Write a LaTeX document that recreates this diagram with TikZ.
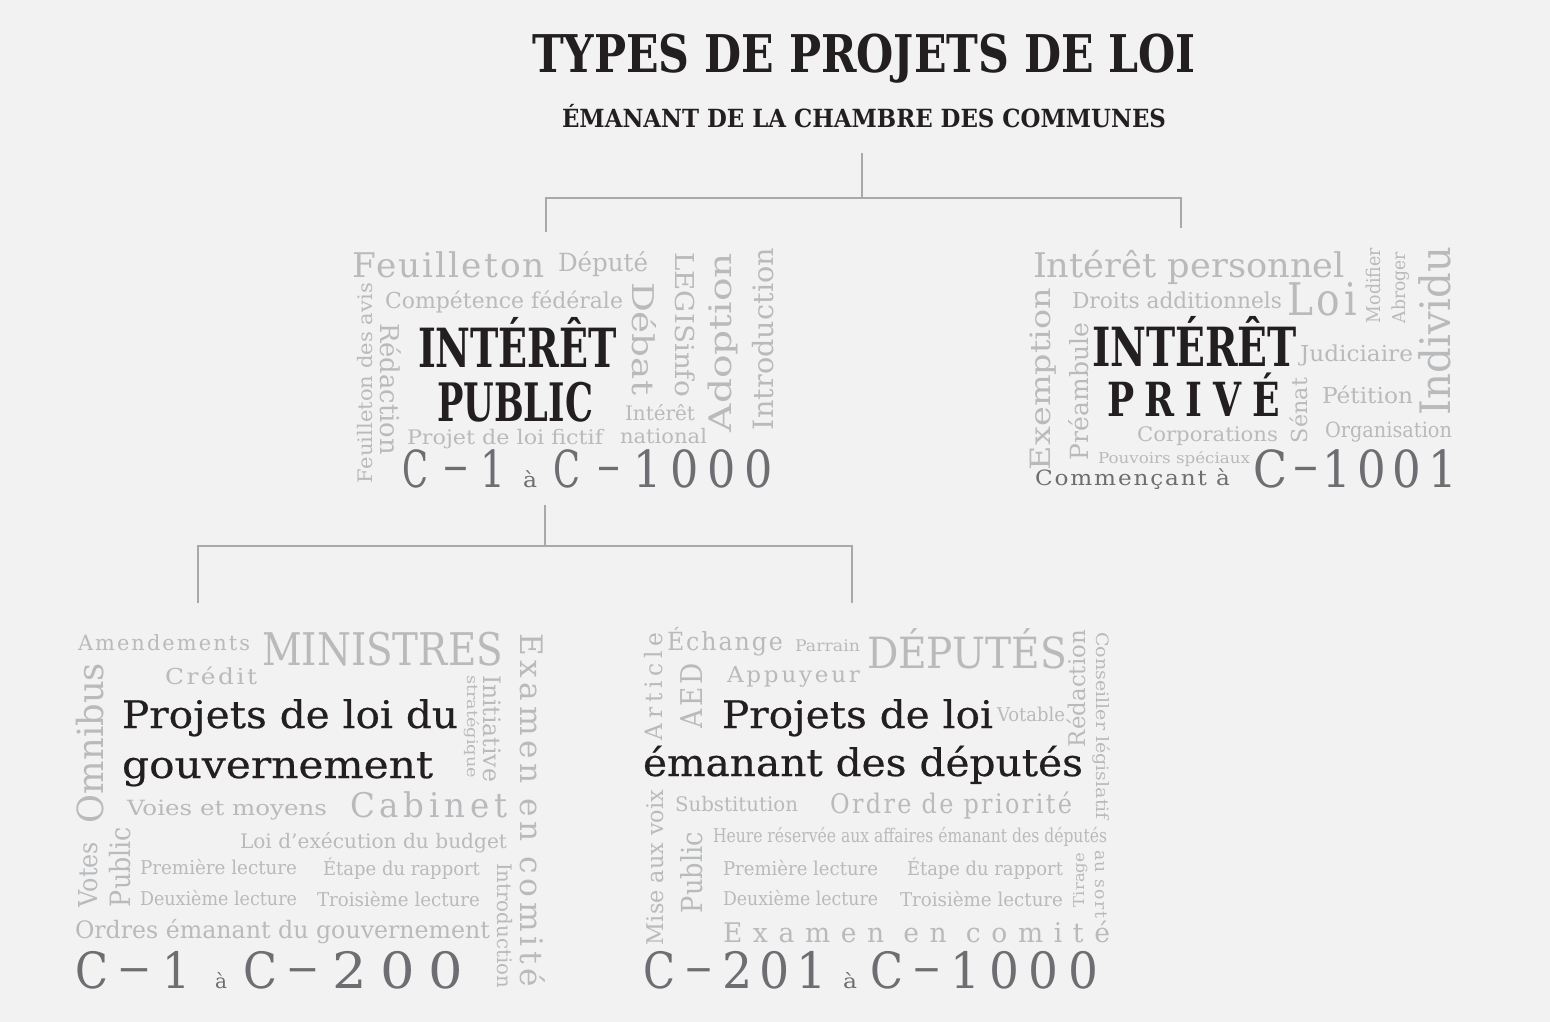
\documentclass[tikz,border=0pt]{standalone}
\usepackage{fontspec}
\setmainfont{DejaVu Serif}
\newfontfamily\medfont[FakeBold=0.5]{DejaVu Serif}
\usepackage{graphicx}
\definecolor{bg}{HTML}{F2F2F2}
\definecolor{lg}{HTML}{B9BABC}
\definecolor{dg}{HTML}{6D6E71}
\definecolor{bk}{HTML}{231F20}
\definecolor{ln}{HTML}{A7A9AC}
\newcommand\fw[3]{\resizebox{#1pt}{\height}{\fontsize{#2pt}{#2pt}\selectfont #3}}
\newcommand\fws[4]{\resizebox{#1pt}{\height}{\fontsize{#2pt}{#2pt}\selectfont\addfontfeature{LetterSpace=#3}#4}}
\newcommand\dsh[2]{\resizebox{#1pt}{\height}{\fontsize{#2pt}{#2pt}\selectfont\raisebox{5pt}{–}}}
\tikzset{
  wd/.style={inner sep=0pt, outer sep=0pt, anchor=base west, text=lg},
  up/.style={wd, rotate=90},
  dn/.style={wd, rotate=-90},
  dk/.style={wd, text=dg},
  bl/.style={wd, text=bk},
  conn/.style={draw=ln, line width=2pt},
}
\begin{document}
\begin{tikzpicture}[x=1pt,y=-1pt]
\fill[bg] (0,0) rectangle (1550,1022);
\useasboundingbox (0,0) rectangle (1550,1022);

% title
\node[bl] (title) at (532,73) {\fw{664}{52}{\bfseries TYPES DE PROJETS DE LOI}};
\node[bl] (sub) at (562,128) {\fw{604}{25}{\bfseries ÉMANANT DE LA CHAMBRE DES COMMUNES}};

% connectors
\coordinate (c0) at (862,153);
\coordinate (c1) at (862,198);
\coordinate (c2) at (546,198);
\coordinate (c3) at (1181,198);
\coordinate (c4) at (546,232);
\coordinate (c5) at (1181,228);
\coordinate (c6) at (545,505);
\coordinate (c7) at (545,546);
\coordinate (c8) at (198,546);
\coordinate (c9) at (852,546);
\coordinate (c10) at (198,603);
\coordinate (c11) at (852,603);
\draw[conn] (c0) -- (c1);
\draw[conn] (c4) -- (c2) -- (c3) -- (c5);
\draw[conn] (c6) -- (c7);
\draw[conn] (c10) -- (c8) -- (c9) -- (c11);

% ---- Intérêt public
\node[wd] (f1) at (352,277) {\fws{193}{34}{6}{Feuilleton}};
\node[wd] (f2) at (558,271) {\fw{90}{25}{Député}};
\node[wd] (f3) at (385,308) {\fw{238}{22}{Compétence fédérale}};
\node[up] (f4) at (372,483) {\fw{200}{20}{Feuilleton des avis}};
\node[dn] (f5) at (380,323) {\fw{132}{26}{Rédaction}};
\node[bl] (f6) at (418,367) {\fw{199}{54}{\bfseries INTÉRÊT}};
\node[bl] (f7) at (437,421) {\fw{156}{53}{\bfseries PUBLIC}};
\node[dn] (f8) at (632,282) {\fw{113}{30}{Débat}};
\node[dn] (f9) at (675,252) {\fw{145}{26}{LEGISinfo}};
\node[up] (f10) at (731,432) {\fw{179}{31}{Adoption}};
\node[up] (f11) at (773,430) {\fw{182}{28}{Introduction}};
\node[wd] (f12) at (625,420) {\fw{70}{20}{Intérêt}};
\node[wd] (f13) at (620,443) {\fw{87}{20}{national}};
\node[wd] (f14) at (407,444) {\fw{196}{20}{Projet de loi fictif}};
\node[dk] (fr1) at (402,487) {\fw{26}{51}{C}};
\node[dk] (fr2) at (443,487) {\dsh{25}{51}};
\node[dk] (fr3) at (480,487) {\fw{25}{51}{1}};
\node[dk] (fr4) at (523,487) {\fw{14}{21}{à}};
\node[dk] (fr5) at (553,487) {\fw{27}{51}{C}};
\node[dk] (fr6) at (597,487) {\dsh{23}{51}};
\node[dk] (fr7) at (633,487) {\fws{140}{51}{20}{1000}};

% ---- Intérêt privé
\node[wd] (p1) at (1033,277) {\fw{312}{34}{Intérêt personnel}};
\node[wd] (p2) at (1072,308) {\fw{210}{22}{Droits additionnels}};
\node[wd] (p3) at (1287,315) {\fws{70}{45}{10}{Loi}};
\node[up] (p4) at (1380,323) {\fw{75}{19}{Modifier}};
\node[up] (p5) at (1405,323) {\fw{71}{18}{Abroger}};
\node[up] (p6) at (1450,415) {\fw{168}{42}{Individu}};
\node[up] (p7) at (1050,470) {\fw{182}{28}{Exemption}};
\node[up] (p8) at (1088,460) {\fw{137}{25}{Préambule}};
\node[bl] (p9) at (1092,366) {\fw{205}{54}{\bfseries INTÉRÊT}};
\node[bl] (p10) at (1107,416) {\fws{173}{47}{30}{\bfseries PRIVÉ}};
\node[wd] (p11) at (1300,361) {\fw{113}{22}{Judiciaire}};
\node[wd] (p12) at (1322,403) {\fw{91}{22}{Pétition}};
\node[up] (p13) at (1307,443) {\fw{65}{22}{Sénat}};
\node[wd] (p14) at (1137,441) {\fw{141}{20}{Corporations}};
\node[wd] (p15) at (1325,437) {\fw{127}{21}{Organisation}};
\node[wd] (p16) at (1098,463) {\fw{152}{15}{Pouvoirs spéciaux}};
\node[dk] (p17) at (1035,485) {\fws{195}{21}{8}{Commençant à}};
\node[dk] (pr1) at (1253,487) {\fw{34}{51}{C}};
\node[dk] (pr2) at (1293,487) {\dsh{25}{51}};
\node[dk] (pr3) at (1322,487) {\fws{135}{51}{15}{1001}};

% ---- Gouvernement
\node[wd] (g1) at (78,650) {\fws{172}{21}{10}{Amendements}};
\node[wd] (g2) at (262,665) {\fw{241}{45}{MINISTRES}};
\node[wd] (g3) at (165,684) {\fws{92}{22}{10}{Crédit}};
\node[up] (g4) at (103,823) {\fw{160}{36}{Omnibus}};
\node[bl] (g5) at (122,728) {\fw{336}{38}{\medfont Projets de loi du}};
\node[bl] (g6) at (122,778) {\fw{311}{38}{\medfont gouvernement}};
\node[dn] (g7) at (467,675) {\fw{103}{15}{stratégique}};
\node[dn] (g8) at (483,675) {\fw{107}{24}{Initiative}};
\node[dn] (g9) at (520,633) {\fws{354}{31}{15}{Examen en comité}};
\node[wd] (g10) at (127,815) {\fw{200}{21}{Voies et moyens}};
\node[wd] (g11) at (350,817) {\fws{158}{34}{15}{Cabinet}};
\node[wd] (g12) at (240,848) {\fw{267}{20}{Loi d’exécution du budget}};
\node[up] (g13) at (97,907) {\fw{65}{26}{Votes}};
\node[up] (g14) at (130,907) {\fw{80}{28}{Public}};
\node[wd] (g15) at (140,874) {\fw{157}{19}{Première lecture}};
\node[wd] (g16) at (323,875) {\fw{157}{19}{Étape du rapport}};
\node[wd] (g17) at (140,905) {\fw{157}{19}{Deuxième lecture}};
\node[wd] (g18) at (317,906) {\fw{163}{19}{Troisième lecture}};
\node[dn] (g19) at (497,863) {\fw{125}{20}{Introduction}};
\node[wd] (g20) at (75,938) {\fw{415}{24}{Ordres émanant du gouvernement}};
\node[dk] (gr1) at (75,988) {\fw{33}{50}{C}};
\node[dk] (gr2) at (118,988) {\dsh{32}{50}};
\node[dk] (gr3) at (162,988) {\fw{28}{50}{1}};
\node[dk] (gr4) at (215,988) {\fw{12}{20}{à}};
\node[dk] (gr5) at (243,988) {\fw{34}{50}{C}};
\node[dk] (gr6) at (287,988) {\dsh{31}{50}};
\node[dk] (gr7) at (332,988) {\fws{131}{50}{25}{200}};

% ---- Députés
\node[up] (d1) at (662,740) {\fws{107}{24}{20}{Article}};
\node[wd] (d2) at (667,650) {\fws{116}{25}{8}{Échange}};
\node[wd] (d3) at (795,651) {\fw{65}{16}{Parrain}};
\node[wd] (d4) at (867,668) {\fw{200}{43}{DÉPUTÉS}};
\node[up] (d5) at (702,728) {\fws{65}{30}{10}{AED}};
\node[wd] (d6) at (727,682) {\fws{133}{22}{12}{Appuyeur}};
\node[bl] (d7) at (722,728) {\fw{271}{38}{\medfont Projets de loi}};
\node[wd] (d8) at (997,721) {\fw{68}{19}{Votable}};
\node[up] (d9) at (1085,747) {\fw{117}{23}{Rédaction}};
\node[dn] (d10) at (1096,632) {\fw{188}{17}{Conseiller législatif}};
\node[bl] (d11) at (643,776) {\fw{440}{38}{\medfont émanant des députés}};
\node[up] (d12) at (663,945) {\fw{155}{23}{Mise aux voix}};
\node[wd] (d13) at (675,811) {\fw{123}{20}{Substitution}};
\node[wd] (d14) at (830,813) {\fws{242}{27}{10}{Ordre de priorité}};
\node[up] (d15) at (702,913) {\fw{81}{29}{Public}};
\node[wd] (d16) at (713,842) {\fw{394}{19}{Heure réservée aux affaires émanant des députés}};
\node[wd] (d17) at (723,875) {\fw{155}{19}{Première lecture}};
\node[wd] (d18) at (907,875) {\fw{156}{19}{Étape du rapport}};
\node[wd] (d19) at (723,905) {\fw{155}{19}{Deuxième lecture}};
\node[wd] (d20) at (900,906) {\fw{163}{19}{Troisième lecture}};
\node[up] (d21) at (1084,907) {\fw{54}{15}{Tirage}};
\node[dn] (d22) at (1095,850) {\fws{68}{17}{8}{au sort}};
\node[wd] (d23) at (723,942) {\fws{387}{27}{40}{Examen en comité}};
\node[dk] (dr1) at (643,988) {\fw{32}{50}{C}};
\node[dk] (dr2) at (685,988) {\dsh{27}{50}};
\node[dk] (dr3) at (722,988) {\fws{105}{50}{15}{201}};
\node[dk] (dr4) at (843,988) {\fw{14}{20}{à}};
\node[dk] (dr5) at (870,988) {\fw{33}{50}{C}};
\node[dk] (dr6) at (913,988) {\dsh{27}{50}};
\node[dk] (dr7) at (950,988) {\fws{148}{50}{20}{1000}};
\end{tikzpicture}
\end{document}
